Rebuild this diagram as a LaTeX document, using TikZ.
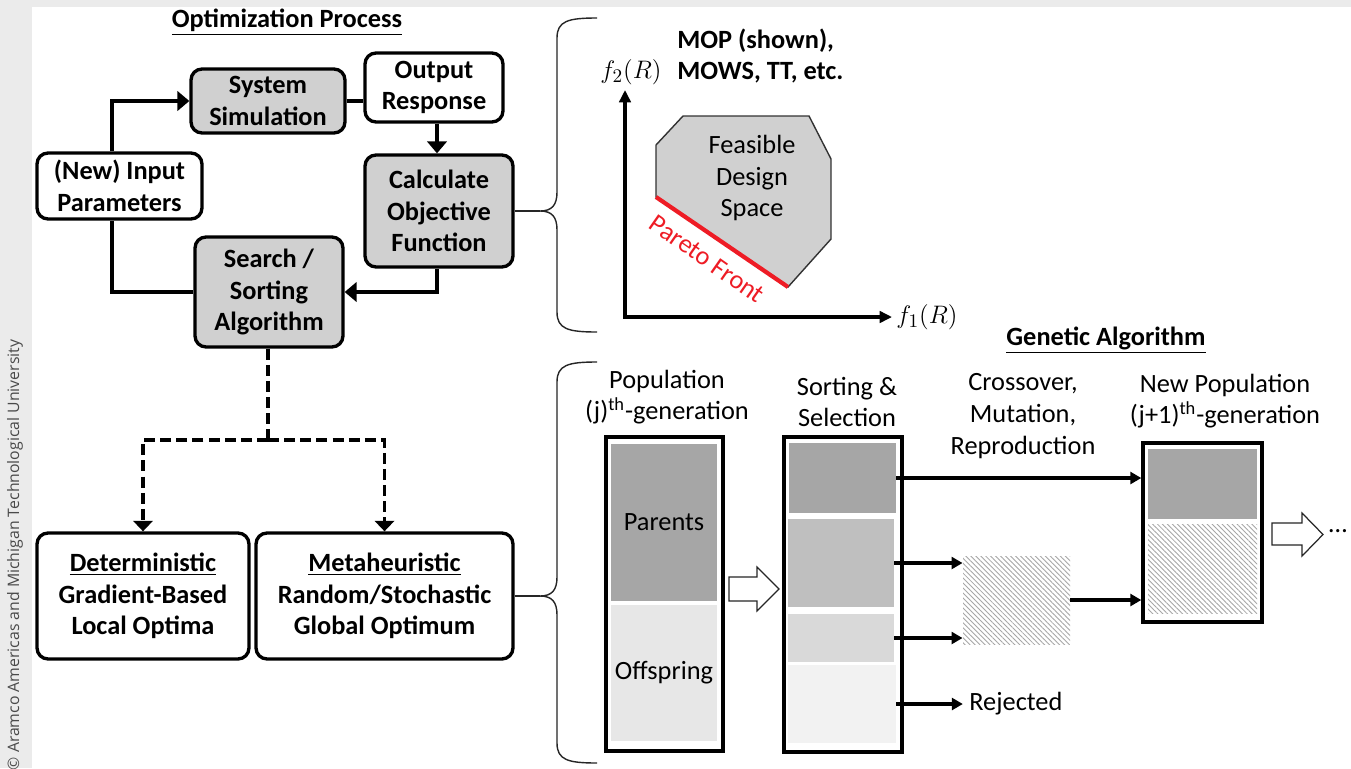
\documentclass[tikz,border=0pt]{standalone}
\usepackage{fontspec}
\setmainfont{Carlito}
\newfontfamily\copyfont{Open Sans}
\usetikzlibrary{arrows.meta,patterns.meta,fit}
\newcommand{\myfs}{\fontsize{15}{18}\selectfont}
\definecolor{bggray}{HTML}{EBEBEB}
\definecolor{copygray}{HTML}{4A4A4A}
\definecolor{boxgray}{HTML}{D0D0D0}
\definecolor{darkblk}{HTML}{A6A6A6}
\definecolor{midblk}{HTML}{BFBFBF}
\definecolor{lightblk}{HTML}{D9D9D9}
\definecolor{paleblk}{HTML}{F2F2F2}
\definecolor{offsp}{HTML}{E7E7E7}
\definecolor{pareto}{HTML}{EE1C25}
\begin{document}
\begin{tikzpicture}[x=0.02cm,y=-0.02cm,
  box/.style={draw, line width=1.9pt, rounded corners=0.22cm, inner sep=0pt, align=center, font=\myfs\bfseries},
  gbox/.style={box, fill=boxgray},
  wbox/.style={box, fill=white},
  conn/.style={line width=2.2pt},
  arrL/.style={conn, -{Triangle[length=6.8pt,width=11pt]}},
  dashL/.style={conn, dash pattern=on 6.2pt off 3pt},
  dashA/.style={dashL, -{Triangle[length=6pt,width=11pt]}},
  thinc/.style={line width=0.7pt, draw=black!85},
  axisL/.style={line width=2.2pt, {Triangle[length=7pt,width=6.5pt]}-{Triangle[length=7pt,width=6.5pt]}},
  gaA/.style={line width=2.2pt, -{Triangle[length=6.3pt,width=6.8pt]}},
  col/.style={draw, line width=1.9pt, fill=white, inner sep=0pt},
  blk/.style={inner sep=0pt, draw=none},
  hatch/.style={blk, pattern={Lines[angle=-45,distance=2pt,line width=0.5pt]}, pattern color=black!35},
  lbl/.style={font=\myfs, align=center},
  blockarr/.style={draw=black!85, line width=0.7pt, fill=white},
  bracel/.style={line width=0.8pt, draw=black!85}
]
\useasboundingbox (0,0) rectangle (1351,768);
\fill[bggray] (0,0) rectangle (1351,768);
\fill[white] (32,7) rectangle (1351,768);
\node[font=\copyfont\fontsize{9}{11}\selectfont, text=copygray, rotate=90] (copy) at (15,555) {© Aramco Americas and Michigan Technological University};

% ---------------- Optimization process ----------------
\node[font=\myfs\bfseries] (t1) at (287,22) {\underline{Optimization Process}};
\node[gbox, minimum width=3.08cm, minimum height=1.28cm] (sys) at (268,101) {System\\Simulation};
\node[wbox, minimum width=2.76cm, minimum height=1.38cm] (out) at (434,87.5) {Output\\Response};
\node[wbox, minimum width=3.3cm, minimum height=1.32cm] (inp) at (119.5,186) {(New) Input\\Parameters};
\node[gbox, minimum width=2.96cm, minimum height=2.24cm] (calc) at (439,211) {Calculate\\Objective\\Function};
\node[gbox, minimum width=2.96cm, minimum height=2.2cm] (search) at (269,292) {Search /\\Sorting\\Algorithm};
\node[wbox, minimum width=4.24cm, minimum height=2.52cm] (det) at (143,596) {\underline{Deterministic}\\Gradient-Based\\Local Optima};
\node[wbox, minimum width=5.14cm, minimum height=2.52cm] (meta) at (384.5,596) {\underline{Metaheuristic}\\Random/Stochastic\\Global Optimum};

\coordinate (lx) at (112,0);
\coordinate (ax) at (437,0);
\draw[arrL] (inp.north -| lx) |- (sys.west);
\draw[conn] (sys.east) -- (sys.east -| out.west);
\draw[arrL] (out.south -| ax) -- (calc.north -| ax);
\draw[arrL] (calc.south -| ax) |- (search.east);
\draw[conn] (search.west) -| (inp.south -| lx);

\coordinate (split) at (268,440);
\draw[dashL] (search.south -| split) -- (split);
\draw[dashA] (split) -| (det.north);
\draw[dashA] (split) -| (meta.north);

% ---------------- braces ----------------
\coordinate (tb) at (540,211);
\coordinate (bb) at (540,596);
\draw[bracel] (597,18) .. controls (568,18) and (557,21) .. (557,38) -- (557,192) .. controls (557,205) and (552,211) .. (tb) .. controls (552,211) and (557,217) .. (557,230) -- (557,312) .. controls (557,329) and (568,332) .. (597,332);
\draw[bracel] (597,362) .. controls (568,362) and (557,365) .. (557,382) -- (557,577) .. controls (557,590) and (552,596) .. (bb) .. controls (552,596) and (557,602) .. (557,615) -- (557,743) .. controls (557,760) and (568,763) .. (597,763);
\draw[thinc] (calc.east) -- (tb);
\draw[thinc] (meta.east) -- (bb);

% ---------------- objective space plot ----------------
\coordinate (O) at (625,317);
\coordinate (ytip) at (625,90);
\coordinate (xtip) at (892,317);
\draw[axisL] (ytip) -- (O) -- (xtip);
\node[font=\myfs] (f2) at (631,72) {$f_2(R)$};
\node[font=\myfs] (f1) at (927,317) {$f_1(R)$};
\node[font=\myfs\bfseries, align=left, anchor=west, inner sep=0pt] (mop) at (677,56) {MOP (shown),\\MOWS, TT, etc.};
\filldraw[fill=boxgray, draw=black!80, line width=0.8pt] (656,145) -- (683,116) -- (809,116) -- (831,159) -- (831,239) -- (788,287) -- (656,197) -- cycle;
\draw[pareto, line width=2.4pt] (656,197) -- (788,287);
\node[lbl] (fds) at (752,178) {Feasible\\Design\\Space};
\node[font=\myfs, text=pareto, rotate=-35, inner sep=0pt] (pf) at (707,259) {Pareto Front};

% ---------------- genetic algorithm ----------------
\node[font=\myfs\bfseries] (t2) at (1106,340) {\underline{Genetic Algorithm}};
\node[lbl] (popl) at (667,397) {Population\\(j)\textsuperscript{th}-generation};
\node[lbl] (sortl) at (847,402) {Sorting \&\\Selection};
\node[lbl] (crossl) at (1023,416) {Crossover,\\Mutation,\\Reproduction};
\node[lbl] (newl) at (1225,401) {New Population\\(j+1)\textsuperscript{th}-generation};

\node[col, fit={(606,437) (723,751)}] (col1) {};
\node[blk, fill=darkblk, fit={(611,444) (717,601)}] (par) {};
\node[blk, fill=offsp, fit={(611,605) (717,741)}] (off) {};
\node[font=\myfs] at (par.center) {Parents};
\node[font=\myfs] at (off.center) {Offspring};

\draw[blockarr] (729,577) -- (757,577) -- (757,567) -- (779,589) -- (757,611) -- (757,601) -- (729,601) -- cycle;

\node[col, fit={(784,437) (902,752)}] (col2) {};
\node[blk, fill=darkblk, fit={(789,443) (896,513)}] (b1) {};
\node[blk, fill=midblk, fit={(788,519) (894,607)}] (b2) {};
\node[blk, fill=lightblk, fit={(788,614) (894,662)}] (b3) {};
\node[blk, fill=paleblk, fit={(788,665) (896,743)}] (b4) {};

\node[hatch, fit={(963,556) (1070,644)}] (hx) {};
\node[font=\myfs, anchor=west, inner sep=0pt] (rej) at (969,704) {Rejected};

\node[col, fit={(1143,443) (1262,622)}] (newp) {};
\node[blk, fill=darkblk, fit={(1148,449) (1257,519)}] (n1) {};
\node[hatch, fit={(1148,524) (1257,613)}] (n2) {};

\draw[gaA] (b1.east) -- (b1.east -| newp.west);
\draw[gaA] (b2.east) -- (b2.east -| hx.west);
\draw[gaA] (b3.east) -- (b3.east -| hx.west);
\draw[gaA] (b4.east) -- ([xshift=-3.5pt]rej.west);
\draw[gaA] (hx.east) -- (hx.east -| newp.west);

\draw[blockarr] (1272,523) -- (1302,523) -- (1302,513) -- (1323,534.5) -- (1302,556) -- (1302,545) -- (1272,545) -- cycle;
\node[font=\myfs] (dots) at (1338,531) {…};
\end{tikzpicture}
\end{document}
